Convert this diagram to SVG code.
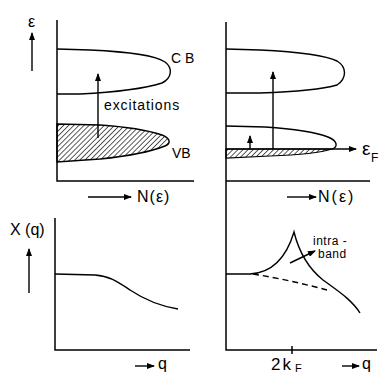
<svg xmlns="http://www.w3.org/2000/svg" width="381" height="375" viewBox="0 0 381 375">
<style>
.ln{fill:none;stroke:#000;stroke-width:1.4}
.ax{fill:none;stroke:#000;stroke-width:1.5}
.ar{fill:none;stroke:#000;stroke-width:1.4;marker-end:url(#ah)}
.t{font-family:"Liberation Sans",Arial,sans-serif;fill:#000}
</style>
<defs>
<marker id="ah" markerWidth="8" markerHeight="6" refX="7" refY="3" orient="auto" markerUnits="userSpaceOnUse"><path d="M0,0 L8,3 L0,6 Z" fill="#000"/></marker>
<pattern id="hatch" width="3.6" height="4" patternUnits="userSpaceOnUse" patternTransform="rotate(45)"><line x1="0" y1="0" x2="0" y2="4" stroke="#000" stroke-width="1.3"/></pattern>
</defs>
<rect width="381" height="375" fill="#fff"/>
<g id="axes">
<path class="ax" d="M57,20 L57,181 L194,181"/>
<path class="ax" d="M55,218 L55,350 L190,350"/>
<path class="ax" d="M226,22 L226,350 L377,350"/>
<path class="ax" d="M226,181 L370,181"/>
<path class="ax" d="M292,346 L292,354"/>
</g>
<g id="left-cb">
<path class="ln" d="M57,49 L90,50 C130,52 155,55 165,62 C173,68 172,78 162,83 C140,90 100,93 80,94 L57,94"/>
<text class="t" x="171" y="63" font-size="14">C B</text>
</g>
<g id="left-vb">
<path d="M57,124 L100,125 C130,127 150,131 162,135 C172,139 170,144 165,146 C150,152 130,156 100,159 L57,162 Z" fill="url(#hatch)" stroke="#000" stroke-width="1.4"/>
<text class="t" x="172" y="158" font-size="14">VB</text>
</g>
<g id="right-cb">
<path class="ln" d="M226,49 L260,50 C300,52 325,55 337,61 C347,67 347,78 337,85 C320,90 290,92 260,93 L226,93"/>
</g>
<g id="right-vb">
<path d="M226,149 L332,149 C320,153 300,155 270,156 L226,158 Z" fill="url(#hatch)" stroke="#000" stroke-width="1.2"/>
<path class="ln" d="M226,126 L265,127 C295,129 315,132 328,137 C338,141 338,147 332,149"/>
</g>
<g id="left-chi">
<path class="ln" d="M55,274 L95,275 C110,276 118,282 130,290 C145,300 160,306 178,309"/>
</g>
<g id="right-chi">
<path class="ln" d="M226,274 L250,274 C268,273 285,262 294,232 C299,252 308,268 323,280 C338,291 352,300 360,313"/>
<path class="ln" d="M253,274 Q290,280 327,290" stroke-dasharray="6,4"/>
</g>
<g id="connectors">
<path class="ar" d="M32,71 L32,33"/>
<path class="ar" d="M29,293 L29,249"/>
<path class="ar" d="M98,138 L98,74"/>
<path class="ar" d="M273,149 L273,72"/>
<path class="ar" d="M250,149 L250,136"/>
<path class="ar" d="M226,149 L356,149"/>
<path class="ar" d="M88,197 L131,197"/>
<path class="ar" d="M287,197 L316,197"/>
<path class="ar" d="M135,366 L154,366"/>
<path class="ar" d="M342,366 L359,366"/>
<path class="ar" d="M290,263 L315,251"/>
</g>
<g id="labels">
<text class="t" x="28" y="27" font-size="16">ε</text>
<text class="t" x="104" y="110" font-size="14" letter-spacing="0.9">excitations</text>
<text class="t" x="362" y="155" font-size="19">ε</text>
<text class="t" x="371" y="162" font-size="12">F</text>
<text class="t" x="137" y="202" font-size="16" letter-spacing="1">N(ε)</text>
<text class="t" x="318" y="202" font-size="16" letter-spacing="2">N(ε)</text>
<text class="t" x="10" y="235" font-size="16">X (q)</text>
<text class="t" x="313" y="245" font-size="12" letter-spacing="0.5">intra -</text>
<text class="t" x="318" y="258" font-size="12" letter-spacing="0.5">band</text>
<text class="t" x="158" y="369" font-size="16">q</text>
<text class="t" x="271" y="370" font-size="17" letter-spacing="2">2k</text>
<text class="t" x="295" y="372" font-size="11">F</text>
<text class="t" x="362" y="369" font-size="16">q</text>
</g>
</svg>
